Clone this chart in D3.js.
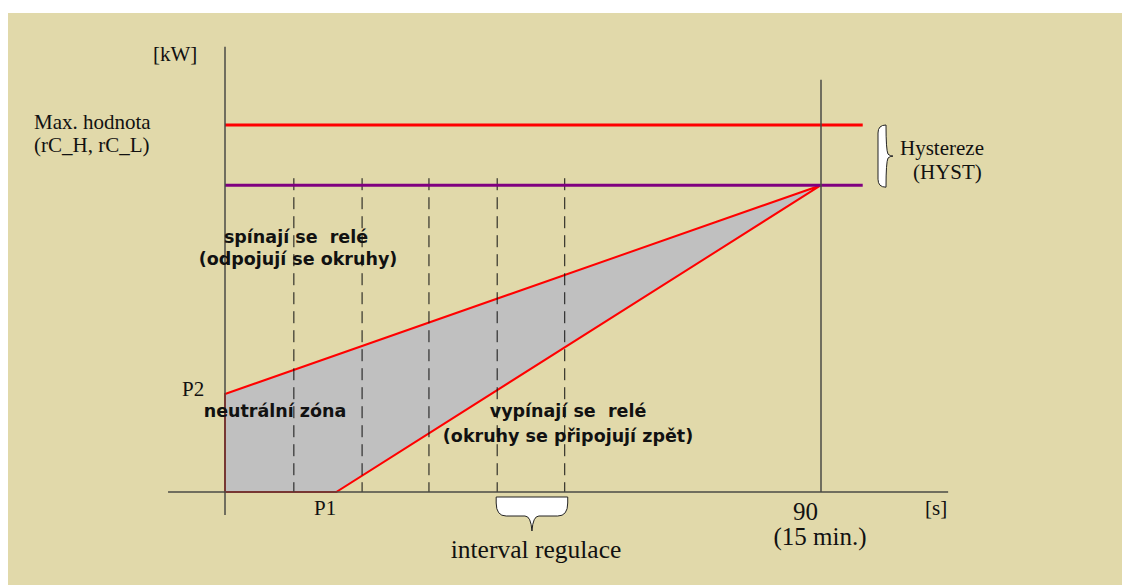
<!DOCTYPE html>
<html><head><meta charset="utf-8">
<script src="https://cdn.jsdelivr.net/npm/d3@7"></script>
<style>html,body{margin:0;padding:0;background:#fff}svg{display:block}text{white-space:pre}</style>
</head><body>
<svg id="c" width="1122" height="585"></svg>
<script>
// ---- data ----
const levelNames = ["Max. hodnota", "HYST"];
const levelValues = [100, 83.6];           // kW (relative)
const levelColors = ["#ff0000", "#800080"];
const dashTimes = [10.4, 20.7, 30.8, 41.1, 51.3]; // s
const zoneTimes = [0, 0, 90, 16.8];        // neutral zone polygon (s)
const zoneValues = [0, 26.7, 83.6, 0];     // neutral zone polygon (kW)
const endTime = 90;
const endTickLabels = ["90", "(15 min.)"];
const intervalRange = [41.1, 51.3];

const svg = d3.select("#c");
svg.append("rect").attr("x", 8).attr("y", 13).attr("width", 1114).attr("height", 572).attr("fill", "#e1d9aa");

const x = d3.scaleLinear().domain([0, 90]).range([225, 821]);
const y = d3.scaleLinear().domain([0, 100]).range([492, 125]);
const axisCol = "#4a4a44";

// neutral zone polygon
const poly = zoneTimes.map((t, i) => [x(t), y(zoneValues[i])]);
svg.append("path").attr("d", d3.line()(poly) + "Z")
  .attr("fill", "#c0c0c0").attr("stroke", "#ff0000").attr("stroke-width", 2).attr("stroke-linejoin", "miter");

// dashed verticals
svg.selectAll("line.dash").data(dashTimes).enter().append("line")
  .attr("x1", d => x(d)).attr("x2", d => x(d))
  .attr("y1", y(85.5)).attr("y2", y(0))
  .attr("stroke", "#111").attr("stroke-width", 1).attr("stroke-dasharray", "12,7");

// level lines
svg.selectAll("line.lvl").data(levelValues).enter().append("line")
  .attr("x1", x(0)).attr("x2", x(96.3))
  .attr("y1", d => y(d)).attr("y2", d => y(d))
  .attr("stroke", (d, i) => levelColors[i]).attr("stroke-width", 3);

// axes
svg.append("line").attr("x1", x(-8.6)).attr("x2", x(109.2)).attr("y1", y(0)).attr("y2", y(0))
  .attr("stroke", axisCol).attr("stroke-width", 1.5);
svg.append("line").attr("x1", x(0)).attr("x2", x(0)).attr("y1", y(121.3)).attr("y2", y(-6.3))
  .attr("stroke", axisCol).attr("stroke-width", 1.5);
svg.append("line").attr("x1", x(endTime)).attr("x2", x(endTime)).attr("y1", y(112.3)).attr("y2", y(0))
  .attr("stroke", axisCol).attr("stroke-width", 1.5);

// right curly brace (hysteresis)
{
  const t = y(levelValues[0]), b = y(levelValues[1]) + 2, m = (t + b) / 2;
  const l = 878, r = 886, tip = 893;
  const p = `M${r},${t} Q${l},${t} ${l},${t + 8} L${l},${b - 8} Q${l},${b} ${r},${b}
    Q${r},${m + 6} ${r + 2},${m + 2} Q${r + 4},${m} ${tip},${m}
    Q${r + 4},${m} ${r + 2},${m - 2} Q${r},${m - 6} ${r},${t} Z`;
  svg.append("path").attr("d", p).attr("fill", "#fff").attr("stroke", "#222").attr("stroke-width", 1);
}
// bottom curly brace (interval regulace)
{
  const x0 = x(intervalRange[0]) - 1, x1 = x(intervalRange[1]) + 3, cx = (x0 + x1) / 2;
  const t = 497, mid = 516, tip = 531;
  const p = `M${x0},${t} L${x0},${t + 6} Q${x0},${mid} ${x0 + 10},${mid} L${cx - 7},${mid}
    Q${cx - 1},${mid} ${cx},${tip} Q${cx + 1},${mid} ${cx + 7},${mid}
    L${x1 - 10},${mid} Q${x1},${mid} ${x1},${t + 6} L${x1},${t} Z`;
  svg.append("path").attr("d", p).attr("fill", "#fff").attr("stroke", "#222").attr("stroke-width", 1);
}

// texts
const serif = "'Liberation Serif', 'Times New Roman', serif";
const sans = "'DejaVu Sans', 'Liberation Sans', sans-serif";
function txt(s, px, py, opts = {}) {
  svg.append("text").attr("x", px).attr("y", py).text(s)
    .attr("font-family", opts.font || serif).attr("font-size", opts.size || 21)
    .attr("font-weight", opts.bold ? "bold" : "normal")
    .attr("text-anchor", opts.anchor || "start").attr("fill", "#111");
}
txt("[kW]", 153, 61);
txt(levelNames[0], 34, 129);
txt("(rC_H, rC_L)", 34, 152);
txt("Hystereze", 900, 155);
txt("(HYST)", 913, 179);
txt("P2", 182, 396);
txt("P1", 314, 515);
txt(endTickLabels[0], 805.5, 520, {anchor: "middle", size: 25});
txt(endTickLabels[1], 820, 545, {anchor: "middle", size: 25});
txt("[s]", 925, 515);
txt("interval regulace", 536, 558, {anchor: "middle", size: 25.5});
const bs = {font: sans, size: 17.5, bold: true, anchor: "middle"};
txt("spínají se  relé", 296, 243, bs);
txt("(odpojují se okruhy)", 298, 265, bs);
txt("neutrální zóna", 275, 417, bs);
txt("vypínají se  relé", 568, 417, bs);
txt("(okruhy se připojují zpět)", 568, 442, bs);
</script>
</body></html>
